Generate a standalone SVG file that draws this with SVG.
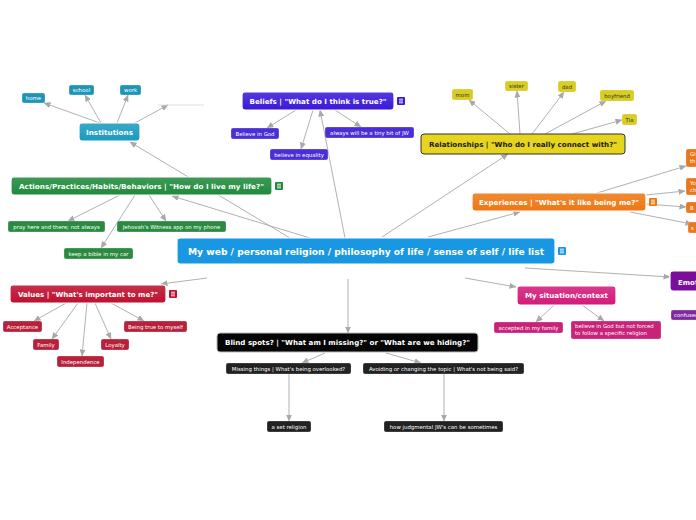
<svg xmlns="http://www.w3.org/2000/svg" width="696" height="520" viewBox="0 0 696 520">
<defs>
<linearGradient id="gl" x1="0" y1="0" x2="0" y2="1"><stop offset="0" stop-color="#fff" stop-opacity="0.14"/><stop offset="1" stop-color="#fff" stop-opacity="0"/></linearGradient>
<marker id="ar" markerUnits="userSpaceOnUse" markerWidth="7" markerHeight="6" refX="6.5" refY="3" orient="auto"><path d="M0,0 L7,3 L0,6 z" fill="#a8a8a8"/></marker>
<g id="ic"><rect x="0" y="0" width="8" height="8" rx="1"/><path d="M2,2.2 H6 M2,4 H6 M2,5.8 H6" stroke="#fff" stroke-width="0.9"/></g>
</defs>
<style>
text{font-family:"DejaVu Sans",Verdana,sans-serif;text-anchor:middle}
.m{font-weight:bold;font-size:7px;fill:#fff}
.c{font-size:5.4px;fill:#fff}
.mn{stroke:#fff;stroke-width:1.2}
.cn{stroke:#fff;stroke-opacity:0.5;stroke-width:0.5}
#conn line{stroke:#a8a8a8;stroke-width:0.9;marker-end:url(#ar)}
</style>
<rect width="696" height="520" fill="#fff"/>
<g id="conn">
<line x1="100" y1="123" x2="44" y2="103"/>
<line x1="101" y1="123" x2="85" y2="95"/>
<line x1="117" y1="123" x2="128" y2="95"/>
<line x1="133" y1="124" x2="168" y2="105"/>
<line x1="290" y1="238" x2="130" y2="142"/>
<line x1="310" y1="238" x2="172" y2="196"/>
<line x1="345" y1="238" x2="320" y2="110"/>
<line x1="382" y1="237" x2="508" y2="154"/>
<line x1="428" y1="237" x2="520" y2="212"/>
<line x1="207" y1="278" x2="161" y2="284"/>
<line x1="348" y1="279" x2="348" y2="333"/>
<line x1="465" y1="278" x2="516" y2="287"/>
<line x1="525" y1="268" x2="670" y2="277"/>
<line x1="296" y1="110" x2="267" y2="128"/>
<line x1="313" y1="110" x2="301" y2="149"/>
<line x1="335" y1="110" x2="361" y2="127"/>
<line x1="510" y1="134" x2="469" y2="100"/>
<line x1="520" y1="134" x2="517" y2="91"/>
<line x1="532" y1="134" x2="564" y2="92"/>
<line x1="545" y1="134" x2="606" y2="101"/>
<line x1="572" y1="134" x2="622" y2="120"/>
<line x1="597" y1="193" x2="686" y2="166"/>
<line x1="646" y1="195" x2="685" y2="191"/>
<line x1="646" y1="204" x2="686" y2="207"/>
<line x1="630" y1="212" x2="692" y2="224"/>
<line x1="120" y1="195" x2="68" y2="221"/>
<line x1="149" y1="195" x2="166" y2="221"/>
<line x1="135" y1="195" x2="101" y2="248"/>
<line x1="66" y1="303" x2="34" y2="321"/>
<line x1="78" y1="303" x2="52" y2="339"/>
<line x1="87" y1="303" x2="82" y2="356"/>
<line x1="95" y1="303" x2="111" y2="339"/>
<line x1="111" y1="303" x2="144" y2="321"/>
<line x1="554" y1="305" x2="536" y2="322"/>
<line x1="582" y1="305" x2="604" y2="321"/>
<line x1="325" y1="353" x2="302" y2="363"/>
<line x1="386" y1="353" x2="421" y2="363"/>
<line x1="289" y1="374" x2="289" y2="421"/>
<line x1="444" y1="374" x2="444" y2="421"/>
<path d="M158,105 H204" stroke="#d8d8d8" stroke-width="0.8" fill="none"/>
</g>

<g id="center">
<rect x="177" y="238" width="378" height="26" rx="3" fill="#1a97e3" class="mn"/>
<text x="366" y="254.5" class="m" style="font-size:9.5px" textLength="356" lengthAdjust="spacingAndGlyphs">My web / personal religion / philosophy of life / sense of self / life list</text>
<use href="#ic" x="558" y="247" fill="#1a97e3"/>
</g>

<g id="institutions">
<rect x="79" y="123" width="61" height="18" rx="3" fill="#1a9bbf" class="mn"/>
<rect x="79" y="123" width="61" height="18" rx="3" fill="url(#gl)"/>
<text x="109.5" y="134.5" class="m" textLength="47" lengthAdjust="spacingAndGlyphs">Institutions</text>
</g>
<g id="home"><rect x="22" y="93" width="23" height="10" rx="2" fill="#1e95b8" class="cn"/><text x="33.5" y="100" class="c">home</text></g>
<g id="school"><rect x="69" y="85" width="25" height="10" rx="2" fill="#1e95b8" class="cn"/><text x="81.5" y="92" class="c">school</text></g>
<g id="work"><rect x="120" y="85" width="21" height="10" rx="2" fill="#1e95b8" class="cn"/><text x="130.5" y="92" class="c">work</text></g>

<g id="beliefs">
<rect x="242" y="92" width="152" height="18" rx="3" fill="#3a18d8" class="mn"/>
<rect x="242" y="92" width="152" height="18" rx="3" fill="url(#gl)"/>
<text x="318" y="103.5" class="m" textLength="137" lengthAdjust="spacingAndGlyphs">Beliefs | "What do I think is true?"</text>
<use href="#ic" x="397" y="97" fill="#3a18d8"/>
</g>
<g id="god"><rect x="231" y="128" width="48" height="11" rx="2" fill="#4a2ed6" class="cn"/><text x="255" y="135.5" class="c">Believe in God</text></g>
<g id="equality"><rect x="270" y="149" width="58" height="11" rx="2" fill="#4a2ed6" class="cn"/><text x="299" y="156.5" class="c">believe in equality</text></g>
<g id="jw"><rect x="325" y="127" width="89" height="11" rx="2" fill="#4a2ed6" class="cn"/><text x="369.5" y="134.5" class="c">always will be a tiny bit of JW</text></g>

<g id="relationships">
<rect x="421" y="134" width="204" height="20" rx="3" fill="#e6d41e" stroke="#333" stroke-width="1"/>
<text x="523" y="146.5" class="m" style="fill:#1a1a1a" textLength="188" lengthAdjust="spacingAndGlyphs">Relationships | "Who do I really connect with?"</text>
</g>
<g id="mom"><rect x="452" y="89" width="21" height="11" rx="2" fill="#d9cc22" class="cn"/><text x="462.5" y="96.5" class="c" style="fill:#333">mom</text></g>
<g id="sister"><rect x="505" y="81" width="23" height="10" rx="2" fill="#d9cc22" class="cn"/><text x="516.5" y="88" class="c" style="fill:#333">sister</text></g>
<g id="dad"><rect x="558" y="81" width="18" height="11" rx="2" fill="#d9cc22" class="cn"/><text x="567" y="88.5" class="c" style="fill:#333">dad</text></g>
<g id="boyfriend"><rect x="600" y="90" width="34" height="11" rx="2" fill="#d9cc22" class="cn"/><text x="617" y="97.5" class="c" style="fill:#333">boyfriend</text></g>
<g id="tia"><rect x="622" y="114" width="15" height="11" rx="2" fill="#d9cc22" class="cn"/><text x="629.5" y="121.5" class="c" style="fill:#333">Tia</text></g>

<g id="experiences">
<rect x="472" y="193" width="174" height="18" rx="3" fill="#ee7712" class="mn"/>
<rect x="472" y="193" width="174" height="18" rx="3" fill="url(#gl)"/>
<text x="559" y="204.5" class="m" textLength="160" lengthAdjust="spacingAndGlyphs">Experiences | "What's it like being me?"</text>
<use href="#ic" x="649" y="198" fill="#ee7712"/>
</g>
<g id="exp1"><rect x="686" y="149" width="30" height="18" rx="2" fill="#e9781c" class="cn"/><text x="690" y="156" class="c" style="text-anchor:start">Gi</text><text x="690" y="162.5" class="c" style="text-anchor:start">th</text></g>
<g id="exp2"><rect x="686" y="178" width="30" height="17" rx="2" fill="#e9781c" class="cn"/><text x="690" y="185" class="c" style="text-anchor:start">Yo</text><text x="690" y="191.5" class="c" style="text-anchor:start">ch</text></g>
<g id="exp3"><rect x="686" y="202" width="30" height="11" rx="2" fill="#e9781c" class="cn"/><text x="690" y="209.5" class="c" style="text-anchor:start">B</text></g>
<g id="exp4"><rect x="688" y="222" width="30" height="11" rx="2" fill="#e9781c" class="cn"/><text x="691" y="229.5" class="c" style="text-anchor:start">s</text></g>

<g id="actions">
<rect x="11" y="177" width="261" height="18" rx="3" fill="#1f8a3b" class="mn"/>
<rect x="11" y="177" width="261" height="18" rx="3" fill="url(#gl)"/>
<text x="141.5" y="188.5" class="m" textLength="245" lengthAdjust="spacingAndGlyphs">Actions/Practices/Habits/Behaviors | "How do I live my life?"</text>
<use href="#ic" x="275" y="182" fill="#1f8a3b"/>
</g>
<g id="pray"><rect x="8" y="221" width="97" height="11" rx="2" fill="#2a8a40" class="cn"/><text x="56.5" y="228.5" class="c">pray here and there; not always</text></g>
<g id="app"><rect x="117" y="221" width="109" height="11" rx="2" fill="#2a8a40" class="cn"/><text x="171.5" y="228.5" class="c">Jehovah's Witness app on my phone</text></g>
<g id="bible"><rect x="64" y="248" width="69" height="11" rx="2" fill="#2a8a40" class="cn"/><text x="98.5" y="255.5" class="c">keep a bible in my car</text></g>

<g id="values">
<rect x="10" y="285" width="156" height="18" rx="3" fill="#be0f2e" class="mn"/>
<rect x="10" y="285" width="156" height="18" rx="3" fill="url(#gl)"/>
<text x="88" y="296.5" class="m" textLength="140" lengthAdjust="spacingAndGlyphs">Values | "What's important to me?"</text>
<use href="#ic" x="169" y="290" fill="#be0f2e"/>
</g>
<g id="acceptance"><rect x="3" y="321" width="39" height="11" rx="2" fill="#b8213a" class="cn"/><text x="22.5" y="328.5" class="c">Acceptance</text></g>
<g id="family"><rect x="33" y="339" width="26" height="11" rx="2" fill="#b8213a" class="cn"/><text x="46" y="346.5" class="c">Family</text></g>
<g id="independence"><rect x="57" y="356" width="47" height="11" rx="2" fill="#b8213a" class="cn"/><text x="80.5" y="363.5" class="c">Independence</text></g>
<g id="loyalty"><rect x="101" y="339" width="28" height="11" rx="2" fill="#b8213a" class="cn"/><text x="115" y="346.5" class="c">Loyalty</text></g>
<g id="true"><rect x="124" y="321" width="63" height="11" rx="2" fill="#b8213a" class="cn"/><text x="155.5" y="328.5" class="c">Being true to myself</text></g>

<g id="situation">
<rect x="517" y="286" width="99" height="19" rx="3" fill="#d31a7a" class="mn"/>
<rect x="517" y="286" width="99" height="19" rx="3" fill="url(#gl)"/>
<text x="566.5" y="298" class="m" textLength="83" lengthAdjust="spacingAndGlyphs">My situation/context</text>
</g>
<g id="accepted"><rect x="494" y="322" width="69" height="11" rx="2" fill="#c82378" class="cn"/><text x="528.5" y="329.5" class="c">accepted in my family</text></g>
<g id="forced"><rect x="571" y="321" width="90" height="18" rx="2" fill="#c82378" class="cn"/><text x="575" y="328" class="c" style="text-anchor:start">believe in God but not forced</text><text x="575" y="335" class="c" style="text-anchor:start">to follow a specific religion</text></g>

<g id="blindspots">
<rect x="217" y="333" width="261" height="19" rx="3" fill="#050505" stroke="#bbb" stroke-width="1"/>
<text x="347.5" y="345" class="m" textLength="245" lengthAdjust="spacingAndGlyphs">Blind spots? | "What am I missing?" or "What are we hiding?"</text>
</g>
<g id="missing"><rect x="226" y="363" width="125" height="11" rx="2" fill="#222" class="cn"/><text x="288.5" y="370.5" class="c">Missing things | What's being overlooked?</text></g>
<g id="avoiding"><rect x="363" y="363" width="161" height="11" rx="2" fill="#222" class="cn"/><text x="443.5" y="370.5" class="c">Avoiding or changing the topic | What's not being said?</text></g>
<g id="setreligion"><rect x="267" y="421" width="44" height="11" rx="2" fill="#222" class="cn"/><text x="289" y="428.5" class="c">a set religion</text></g>
<g id="judgmental"><rect x="384" y="421" width="119" height="11" rx="2" fill="#222" class="cn"/><text x="443.5" y="428.5" class="c">how judgmental JW's can be sometimes</text></g>

<g id="emotions">
<rect x="670" y="271" width="40" height="20" rx="3" fill="#7a0e9b" class="mn"/>
<text x="678" y="284.5" class="m" style="text-anchor:start">Emotions</text>
</g>
<g id="confuse"><rect x="671" y="310" width="40" height="10" rx="2" fill="#7e2a9e" class="cn"/><text x="674" y="317" class="c" style="text-anchor:start">confused</text></g>
</svg>
